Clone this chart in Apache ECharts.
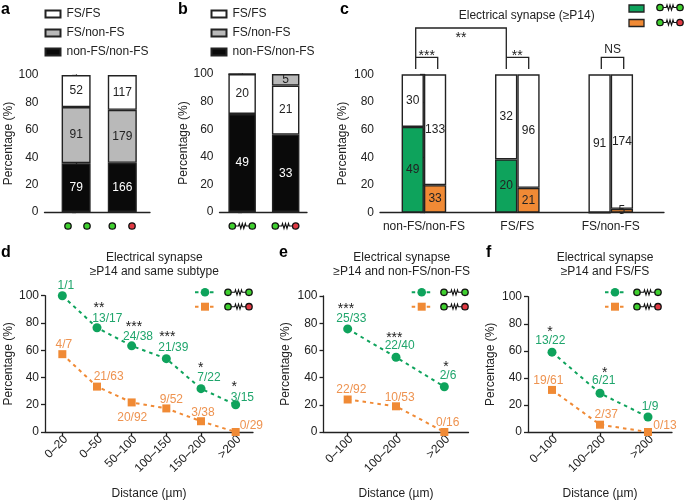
<!DOCTYPE html>
<html><head><meta charset="utf-8">
<style>html,body{margin:0;padding:0;background:#fff}#c{width:685px;height:501px}</style>
<script src="https://cdn.jsdelivr.net/npm/echarts@6/dist/echarts.min.js"></script>
</head><body><div id="c"></div>
<script>
// ---------- data ----------
const yTicks = [0,20,40,60,80,100];
const legendNames = ['FS/FS','FS/non-FS','non-FS/non-FS'];

const aBlack=[35.6,35.9], aGray=[41,38.7], aWhite=[23.4,25.4];
const aBlackN=[79,166], aGrayN=[91,179], aWhiteN=[52,117];

const bBlack=[71,56], bWhite=[29,35.6], bGray=[0,8.4];
const bBlackN=[49,33], bWhiteN=[20,21], bGrayN=['',5];

const cCats=['non-FS/non-FS','FS/FS','FS/non-FS'];
const cGreen=[62,38.5,0], cGreenTop=[38,61.5,100];
const cOrange=[19.9,18,2.8], cOrangeTop=[80.1,82,97.2];
const cGreenN=[49,20,''], cGreenTopN=[30,32,91];
const cOrangeN=[33,21,5], cOrangeTopN=[133,96,174];

const dCats=['0–20','0–50','50–100','100–150','150–200','>200'];
const dGreen=[100,76.5,63.2,53.8,31.8,20];
const dOrange=[57.1,33.3,21.7,17.3,7.9,0];
const dGreenN=['1/1','13/17','24/38','21/39','7/22','3/15'];
const dOrangeN=['4/7','21/63','20/92','9/52','3/38','0/29'];

const eCats=['0–100','100–200','>200'];
const eGreen=[75.8,55,33.3];
const eOrange=[23.9,18.9,0];
const eGreenN=['25/33','22/40','2/6'];
const eOrangeN=['22/92','10/53','0/16'];

const fCats=['0–100','100–200','>200'];
const fGreen=[59,28.6,11.1];
const fOrange=[31.1,5.4,0];
const fGreenN=['13/22','6/21','1/9'];
const fOrangeN=['19/61','2/37','0/13'];

// ---------- label nudges (pixels from the marker) ----------
const dGreenOff=[[3.6,-10.5],[10.3,-9.4],[6.3,-8.9],[7,-10.8],[8,-10.5],[6.7,-7.1]];
const dOrangeOff=[[1.6,-9.8],[11.7,-9.7],[0.6,15.2],[5,-9.2],[2,-8.8],[15.7,-6.8]];
const eGreenOff=[[3.7,-10.1],[3.7,-11.2],[3.7,-11.2]];
const eOrangeOff=[[3.7,-9.5],[3.7,-8.2],[3.4,-9.8]];
const fGreenOff=[[-1.7,-11.1],[3.7,-12.5],[2,-10.5]];
const fOrangeOff=[[-3.7,-8.8],[6.3,-9.8],[17,-6.2]];

// ---------- style ----------
const FONT='"Liberation Sans",Arial,sans-serif';
const INK='#222222', BLACK='#0a0a0a', GRAY='#b9b9b9', WHITE='#ffffff';
const GREEN='#0ea35c', ORANGE='#f08a35', GTEXT='#1fa56c', OTEXT='#ee9350';
const DOTG='#3fd02f', DOTR='#e03a43';

const grids=[
 {left:44.5,top:75,width:105.5,height:137},
 {left:219.5,top:74,width:87.5,height:138},
 {left:380,top:74.3,width:284,height:138.4},
 {left:45,top:295.7,width:208,height:138.3},
 {left:323.5,top:296,width:145,height:138},
 {left:528,top:296.7,width:144,height:137.3}
];
const nameGaps=[30,30,31,30,32,31];

function yAxis(i){return {type:'value',gridIndex:i,min:0,max:100,interval:20,
  name:'Percentage (%)',nameLocation:'middle',nameGap:nameGaps[i],
  nameTextStyle:{fontFamily:FONT,fontSize:12,color:INK},
  axisLine:{show:true,lineStyle:{color:INK,width:1.3}},
  axisTick:{show:true,length:4,lineStyle:{color:INK,width:1.3}},
  axisLabel:{fontFamily:FONT,fontSize:12,color:INK,margin:6,showMinLabel:true,showMaxLabel:true,
    customValues:yTicks},
  splitLine:{show:false}};}
function xValue(i,min,max,extra){return Object.assign({type:'value',gridIndex:i,min,max,
  axisLine:{show:true,onZero:false,lineStyle:{color:INK,width:1.3}},
  axisTick:{show:false},axisLabel:{show:false},splitLine:{show:false}},extra||{});}
function xCat(i,cats){return {type:'category',gridIndex:i,data:cats,boundaryGap:true,
  name:'Distance (µm)',nameLocation:'middle',nameGap:56,
  nameTextStyle:{fontFamily:FONT,fontSize:12,color:INK},
  axisLine:{show:true,lineStyle:{color:INK,width:1.3}},
  axisTick:{show:true,alignWithLabel:true,length:4,lineStyle:{color:INK,width:1.3}},
  axisLabel:{fontFamily:FONT,fontSize:12,color:INK,rotate:45,margin:9,interval:0,padding:[0,-5,0,0]},
  splitLine:{show:false}};}

function bar(name,g,vals,counts,color,txt,width,stack){
  return {type:'bar',name,xAxisIndex:g,yAxisIndex:g,stack,barWidth:width,barGap:0,
    dimensions:['pct','slot'],encode:{x:'slot',y:'pct'},
    itemStyle:{color,borderColor:INK,borderWidth:1.4},
    label:{show:true,position:'inside',color:txt,fontFamily:FONT,fontSize:12,
      formatter:p=>counts[p.dataIndex]},
    data:vals.map((v,k)=>[v,k])};
}
function line(name,g,vals,counts,offs,color,txt,symbol,size){
  return {type:'line',name,xAxisIndex:g,yAxisIndex:g,symbol,symbolSize:size,clip:false,
    lineStyle:{color,width:2,type:[3.5,4]},itemStyle:{color},
    data:vals.map((v,k)=>({value:v,label:{show:true,position:'inside',offset:offs[k],
      color:txt,fontFamily:FONT,fontSize:12,formatter:counts[k]}}))};
}

const series=[
 bar('non-FS/non-FS',0,aBlack,aBlackN,BLACK,'#fff',29,'a'),
 bar('FS/non-FS',0,aGray,aGrayN,GRAY,INK,29,'a'),
 bar('FS/FS',0,aWhite,aWhiteN,WHITE,INK,29,'a'),
 bar('non-FS/non-FS',1,bBlack,bBlackN,BLACK,'#fff',27.5,'b'),
 bar('FS/FS',1,bWhite,bWhiteN,WHITE,INK,27.5,'b'),
 bar('FS/non-FS',1,bGray,bGrayN,GRAY,INK,27.5,'b'),
 bar('Connected green–green',2,cGreen,cGreenN,GREEN,INK,22.3,'cg'),
 bar('Not connected green–green',2,cGreenTop,cGreenTopN,WHITE,INK,22.3,'cg'),
 bar('Connected green–red',2,cOrange,cOrangeN,ORANGE,INK,22.3,'co'),
 bar('Not connected green–red',2,cOrangeTop,cOrangeTopN,WHITE,INK,22.3,'co'),
 line('Green–green',3,dGreen,dGreenN,dGreenOff,GREEN,GTEXT,'circle',9),
 line('Green–red',3,dOrange,dOrangeN,dOrangeOff,ORANGE,OTEXT,'rect',8),
 line('Green–green',4,eGreen,eGreenN,eGreenOff,GREEN,GTEXT,'circle',9),
 line('Green–red',4,eOrange,eOrangeN,eOrangeOff,ORANGE,OTEXT,'rect',8),
 line('Green–green',5,fGreen,fGreenN,fGreenOff,GREEN,GTEXT,'circle',9),
 line('Green–red',5,fOrange,fOrangeN,fOrangeOff,ORANGE,OTEXT,'rect',8)
];

// ---------- annotation graphics ----------
const G=[];
function txt(t,x,y,opt){G.push({type:'text',silent:true,z:20,style:Object.assign({text:t,x,y,fill:INK,
  font:'12px '+FONT,align:'center',verticalAlign:'middle'},opt||{})});}
function stars(n,x,y){txt('*'.repeat(n),x,y+2.5,{font:'14px '+FONT});}
function letter(t,x,y){txt(t,x,y,{font:'bold 16px '+FONT,align:'left',fill:'#000'});}
function path(points,color,w){G.push({type:'polyline',silent:true,z:20,shape:{points},
  style:{stroke:color||INK,lineWidth:w||1.3,fill:null}});}
function dot(x,y,fill,r){G.push({type:'circle',silent:true,z:21,shape:{cx:x,cy:y,r:r||3.2},
  style:{fill,stroke:'#111',lineWidth:1.3}});}
function pair(x1,x2,y,right,joined){
  if(joined){
    const m=(x1+x2)/2, s=1.5;
    path([[x1,y],[m-2.5*s,y],[m-2*s,y-2.5],[m-s,y+2.5],[m,y-2.5],[m+s,y+2.5],[m+2*s,y-2.5],[m+2.5*s,y],[x2,y]],'#111',1.1);
  }
  dot(x1,y,DOTG); dot(x2,y,right);
}
function lineKey(x1,x2,y,color,sym){
  G.push({type:'line',silent:true,z:20,shape:{x1,y1:y,x2,y2:y},style:{stroke:color,lineWidth:2,lineDash:[3.5,4]}});
  const m=(x1+x2)/2;
  if(sym==='circle') G.push({type:'circle',silent:true,z:21,shape:{cx:m,cy:y,r:4.3},style:{fill:color}});
  else G.push({type:'rect',silent:true,z:21,shape:{x:m-4,y:y-4,width:8,height:8},style:{fill:color}});
}
function keyBlock(x1,x2,ix1,ix2){
  lineKey(x1,x2,292.3,GREEN,'circle'); lineKey(x1,x2,306.7,ORANGE,'rect');
  pair(ix1,ix2,292.3,DOTG,true); pair(ix1,ix2,306.7,DOTR,true);
}

letter('a',1,10); letter('b',178,10); letter('c',340,10);
letter('d',1,253); letter('e',279,253); letter('f',486,253);

pair(68,87,226,DOTG,false); pair(112.3,132,226,DOTR,false);
pair(232.3,252.3,226,DOTG,true); pair(275.3,295.7,226,DOTR,true);

G.push({type:'rect',silent:true,z:20,shape:{x:629,y:5,width:15,height:7},style:{fill:GREEN,stroke:INK,lineWidth:1.3}});
G.push({type:'rect',silent:true,z:20,shape:{x:629,y:19.5,width:15,height:7},style:{fill:ORANGE,stroke:INK,lineWidth:1.3}});
pair(660,680,7.5,DOTG,true); pair(660,680,22.5,DOTR,true);

path([[415.7,69],[415.7,28],[506.3,28],[506.3,69]]);
path([[415.7,57.3],[437.7,57.3],[437.7,69]]);
path([[506.3,57.3],[528.7,57.3],[528.7,69]]);
path([[601.3,69],[601.3,57.3],[623.7,57.3],[623.7,69]]);
stars(3,426.7,53.3); stars(2,461,35.3); stars(2,517.3,53.3);
txt('NS',612.7,49.3);

stars(2,99,306); stars(3,134,324.3); stars(3,167.3,335); stars(1,200.7,365.7); stars(1,234.3,385);
stars(3,346,306.3); stars(3,394.3,335.3); stars(1,446,364.3);
stars(1,550,329.3); stars(1,604.7,371);

keyBlock(195,215,228,249);
keyBlock(411.7,431.7,444,465);
keyBlock(605,625,637,658);

const titleStyle={fontFamily:FONT,fontSize:12,fontWeight:'normal',color:INK,lineHeight:14.5};
const titles=[
 {text:'Electrical synapse (≥P14)',left:521.7,top:3,textAlign:'center',textStyle:titleStyle},
 {text:'Electrical synapse\n≥P14 and same subtype',left:149.3,top:245,textAlign:'center',textStyle:titleStyle},
 {text:'Electrical synapse\n≥P14 and non-FS/non-FS',left:396.7,top:245,textAlign:'center',textStyle:titleStyle},
 {text:'Electrical synapse\n≥P14 and FS/FS',left:600,top:245,textAlign:'center',textStyle:titleStyle}
];
function legend(left){return {left,top:3,orient:'vertical',icon:'rect',itemWidth:15,itemHeight:7,itemGap:7,
  selectedMode:false,data:legendNames,textStyle:{fontFamily:FONT,fontSize:12,color:INK,padding:[0,0,0,1]}};}

const chart=echarts.init(document.getElementById('c'),null,{renderer:'canvas'});
chart.setOption({
 animation:false,backgroundColor:'#fff',
 title:titles,
 legend:[legend(39.5),legend(205.5)],
 grid:grids,
 xAxis:[
  xValue(0,-0.685,1.6),
  xValue(1,-0.52,1.49),
  xValue(2,-0.47,2.57,{axisLabel:{show:true,customValues:[0,1,2],formatter:v=>cCats[v],
     fontFamily:FONT,fontSize:12,color:INK,margin:8,hideOverlap:false}}),
  xCat(3,dCats),xCat(4,eCats),xCat(5,fCats)
 ],
 yAxis:[0,1,2,3,4,5].map(yAxis),
 series,
 graphic:{elements:G}
});
</script></body></html>
